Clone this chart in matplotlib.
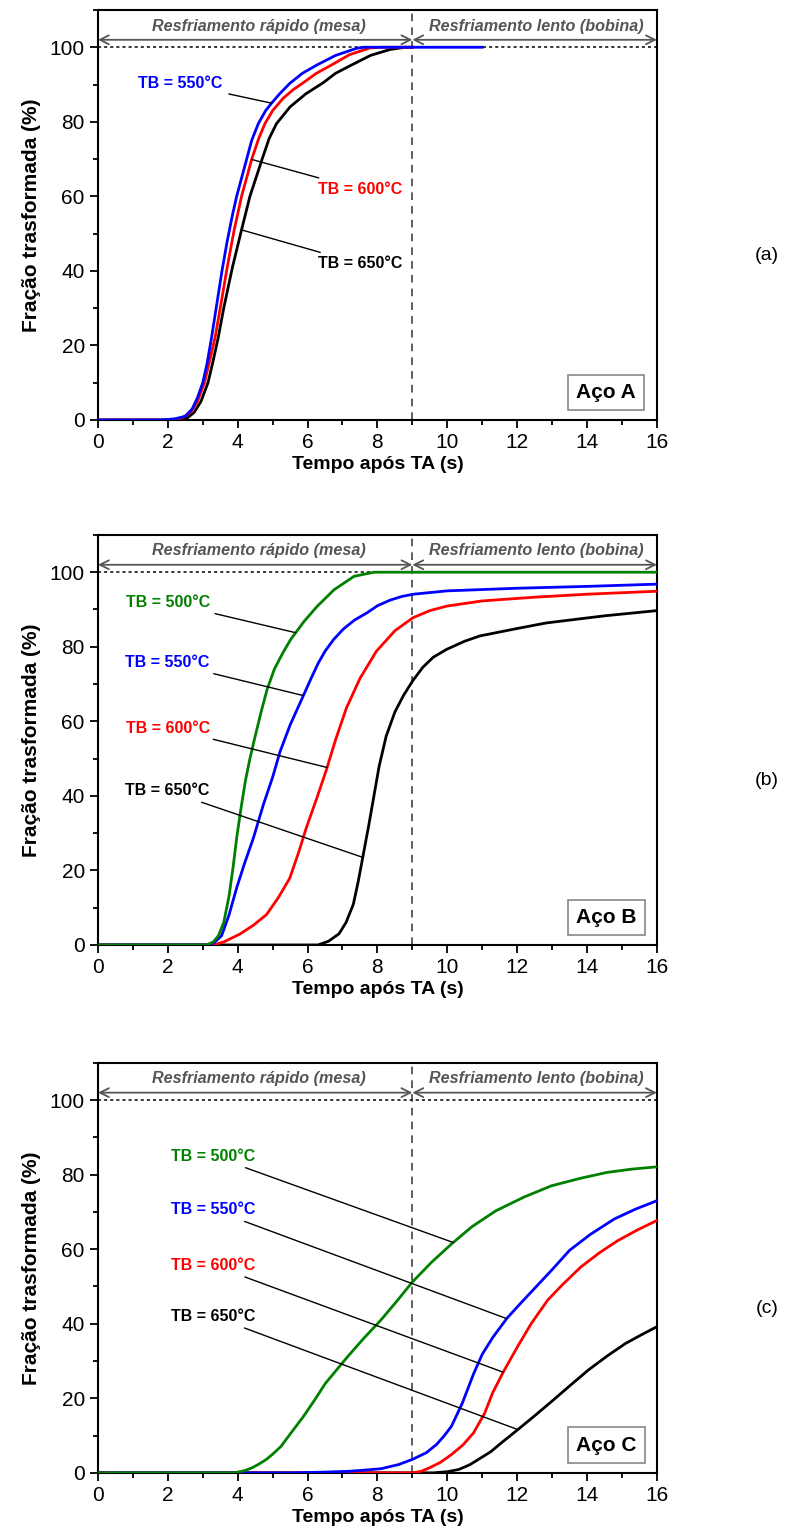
"""
Fração transformada vs tempo após TA, três aços (A, B, C) empilhados.
"""
import numpy as np
import matplotlib
matplotlib.use("Agg")
import matplotlib.pyplot as plt
from matplotlib.ticker import MultipleLocator

plt.rcParams["font.family"] = ["Liberation Sans", "DejaVu Sans"]

# ---- Aço A --------------------------------------------------------------
a_550_t = [0, 1.8, 2.2, 2.5, 2.7, 2.85, 3.0, 3.12, 3.25, 3.4, 3.55, 3.7, 3.85, 3.97,
           4.2, 4.4, 4.59, 4.8, 4.97, 5.2, 5.49, 5.85, 6.26, 6.8, 7.4, 7.6, 11]
a_550_f = [0, 0, 0.3, 1, 3, 6, 10, 15, 22, 31, 40, 48, 55, 60,
           68, 75, 79.5, 83, 85, 87.5, 90.3, 93, 95.2, 97.8, 99.7, 100, 100]
a_600_t = [0, 2.0, 2.4, 2.65, 2.85, 3.05, 3.2, 3.35, 3.5, 3.7, 3.9, 4.11,
           4.4, 4.6, 4.78, 5.0, 5.3, 5.6, 5.88, 6.25, 6.64, 7.2, 7.78, 8.1, 9]
a_600_f = [0, 0, 0.5, 2, 5, 10, 16, 22, 30, 41, 51, 60,
           69.9, 75.5, 79.5, 83, 86.3, 88.7, 90.5, 93, 95, 98, 99.8, 100, 100]
a_650_t = [0, 2.3, 2.55, 2.75, 2.95, 3.15, 3.3, 3.44, 3.6, 3.85, 4.11, 4.35,
           4.7, 4.9, 5.11, 5.5, 5.95, 6.45, 6.8, 7.21, 7.8, 8.36, 8.8, 9]
a_650_f = [0, 0, 0.5, 2, 5, 10, 16, 22, 30, 41, 51, 60,
           70, 75.5, 79.5, 84, 87.5, 90.5, 93, 95, 97.8, 99.4, 100, 100]

# ---- Aço B --------------------------------------------------------------
b_500_t = [0, 3.1, 3.3, 3.45, 3.6, 3.75, 3.87, 3.97, 4.1, 4.22, 4.35, 4.5, 4.67,
           4.84, 5.05, 5.3, 5.52, 5.9, 6.28, 6.76, 7.33, 7.9, 16]
b_500_f = [0, 0, 0.8, 2.5, 6, 13, 21, 28.7, 37, 44, 50, 56, 62.5,
           68.5, 74, 78.5, 82, 86.8, 90.9, 95.3, 98.9, 100, 100]
b_550_t = [0, 3.2, 3.35, 3.54, 3.75, 3.97, 4.2, 4.45, 4.73, 5.0, 5.21, 5.5, 5.88,
           6.1, 6.3, 6.5, 6.75, 7.03, 7.35, 7.7, 8.0, 8.36, 8.7, 9.03, 10, 12, 14, 16]
b_550_f = [0, 0, 0.8, 2.5, 8, 15.3, 22, 28.7, 37.5, 45, 51.8, 59, 66.9,
           71.5, 75.5, 78.8, 82, 84.8, 87.2, 89.1, 91, 92.5, 93.5, 94.1, 95, 95.7, 96.2, 96.8]
b_600_t = [0, 3.3, 3.6, 4.06, 4.45, 4.82, 5.15, 5.49, 5.75, 5.96, 6.25, 6.54, 6.8,
           7.11, 7.5, 7.97, 8.5, 9.02, 9.5, 9.98, 11, 12.5, 14, 16]
b_600_f = [0, 0, 0.8, 2.9, 5.3, 8.1, 12.5, 17.9, 25, 31.3, 39, 47, 55,
           63.5, 71.5, 78.8, 84.3, 87.8, 89.7, 90.9, 92.3, 93.3, 94.1, 94.9]
b_650_t = [0, 6.3, 6.6, 6.9, 7.1, 7.31, 7.45, 7.59, 7.75, 7.9, 8.05, 8.25, 8.5,
           8.75, 9.02, 9.3, 9.6, 9.98, 10.5, 10.93, 12.0, 12.84, 14.5, 16]
b_650_f = [0, 0, 1, 3, 6, 10.9, 17, 24, 32, 40, 48, 56, 62.5,
           67, 71, 74.5, 77.2, 79.3, 81.5, 82.9, 84.9, 86.4, 88.3, 89.7]

# ---- Aço C --------------------------------------------------------------
c_500_t = [0, 3.9, 4.2, 4.4, 4.6, 4.82, 5.0, 5.24, 5.55, 5.88, 6.2, 6.51, 7.15,
           7.6, 8.1, 8.55, 9.0, 9.55, 10.12, 10.7, 11.39, 12.2, 12.98, 13.8,
           14.57, 15.3, 16]
c_500_f = [0, 0, 0.6, 1.3, 2.3, 3.6, 5, 7.1, 11, 15.1, 19.5, 24, 31.2,
           36, 41, 46, 51.2, 56.5, 61.4, 66, 70.3, 74, 77, 79,
           80.6, 81.5, 82.1]
c_550_t = [0, 5.6, 6.5, 7.15, 7.6, 8.1, 8.6, 9.0, 9.4, 9.69, 9.9, 10.12, 10.43,
           10.75, 11.0, 11.3, 11.71, 12.1, 12.45, 13.0, 13.5, 14.1, 14.78,
           15.4, 16]
c_550_f = [0, 0, 0.2, 0.4, 0.7, 1.1, 2.2, 3.6, 5.4, 7.6, 9.8, 12.5, 18.7,
           26.5, 31.8, 36.3, 41.5, 45.5, 49, 54.5, 59.7, 64, 68.1,
           70.8, 73]
c_600_t = [0, 9.0, 9.25, 9.48, 9.8, 10.12, 10.45, 10.75, 11.07, 11.3, 11.6,
           12.02, 12.4, 12.87, 13.3, 13.82, 14.35, 14.88, 15.45, 16]
c_600_f = [0, 0, 0.4, 1.3, 2.8, 4.9, 7.5, 10.7, 16, 21.5, 27,
           34, 40, 46.3, 50.5, 55.2, 59, 62.3, 65.2, 67.7]
c_650_t = [0, 9.6, 10.0, 10.33, 10.65, 10.96, 11.25, 11.49, 12.02, 12.5, 12.98,
           13.5, 14.04, 14.6, 15.1, 15.55, 16]
c_650_f = [0, 0, 0.3, 0.9, 2.2, 4, 5.7, 7.6, 11.6, 15.3, 19.1,
           23.3, 27.6, 31.5, 34.7, 37, 39.2]

# rótulos: (texto, cor, x do texto, y do texto, alinhamento, t do ponto na curva)
labels_a = [
    ("TB = 550°C", "#0000ff", 3.55, 90.3, "right", 4.97),
    ("TB = 600°C", "#ff0000", 6.3, 61.9, "left", 4.40),
    ("TB = 650°C", "black", 6.3, 41.9, "left", 4.11),
]
labels_b = [
    ("TB = 500°C", "#008000", 3.2, 91.9, "right", 5.66),
    ("TB = 550°C", "#0000ff", 3.2, 75.8, "right", 5.88),
    ("TB = 600°C", "#ff0000", 3.2, 58.2, "right", 6.56),
    ("TB = 650°C", "black", 3.2, 41.4, "right", 7.58),
]
labels_c = [
    ("TB = 500°C", "#008000", 4.5, 85.0, "right", 10.17),
    ("TB = 550°C", "#0000ff", 4.5, 70.6, "right", 11.70),
    ("TB = 600°C", "#ff0000", 4.5, 55.7, "right", 11.60),
    ("TB = 650°C", "black", 4.5, 42.0, "right", 12.02),
]

panels = [
    ("Aço A", "(a)", [(a_650_t, a_650_f, "black"), (a_600_t, a_600_f, "#ff0000"),
                      (a_550_t, a_550_f, "#0000ff")], labels_a),
    ("Aço B", "(b)", [(b_650_t, b_650_f, "black"), (b_600_t, b_600_f, "#ff0000"),
                      (b_550_t, b_550_f, "#0000ff"), (b_500_t, b_500_f, "#008000")], labels_b),
    ("Aço C", "(c)", [(c_650_t, c_650_f, "black"), (c_600_t, c_600_f, "#ff0000"),
                      (c_550_t, c_550_f, "#0000ff"), (c_500_t, c_500_f, "#008000")], labels_c),
]

T_SPLIT = 9
GRAY = "#555555"

fig = plt.figure(figsize=(7.85, 15.35), dpi=100)
bottoms = [0.7264, 0.3844, 0.0405]

for (steel, tag, curves, labels), bottom in zip(panels, bottoms):
    ax = fig.add_axes([0.1248, bottom, 0.712, 0.2671])
    colors = {c: (t, f) for t, f, c in curves}

    ax.axhline(100, color="black", lw=1.1, ls=(0, (2, 2)), zorder=1)
    ax.axvline(T_SPLIT, color="#333333", lw=1.1, ls=(0, (5, 4)), zorder=1)
    for t, f, c in curves:
        ax.plot(t, f, color=c, lw=2.0, zorder=3, solid_joinstyle="round")

    for text, c, xt, yt, ha, tp in labels:
        t, f = colors[c]
        yp = np.interp(tp, t, f)
        ax.annotate(text, xy=(tp, yp), xytext=(xt, yt), color=c, fontsize=11.5,
                    fontweight="bold", ha=ha, va="center",
                    arrowprops=dict(arrowstyle="-", color="black", lw=1.0,
                                    shrinkA=3, shrinkB=0))

    # faixas de resfriamento
    for x0, x1 in [(0, T_SPLIT), (T_SPLIT, 16)]:
        ax.annotate("", xy=(x0, 102), xytext=(x1, 102),
                    arrowprops=dict(arrowstyle="<->", color=GRAY, lw=1.3,
                                    shrinkA=0, shrinkB=0,
                                    mutation_scale=16))
    ax.text(4.6, 105.7, "Resfriamento rápido (mesa)", color=GRAY, fontsize=11.6,
            style="italic", fontweight="bold", ha="center", va="center")
    ax.text(12.55, 105.7, "Resfriamento lento (bobina)", color=GRAY, fontsize=11.6,
            style="italic", fontweight="bold", ha="center", va="center")

    ax.text(14.55, 7.4, steel, fontsize=15, fontweight="bold", ha="center", va="center",
            bbox=dict(boxstyle="square,pad=0.4", fc="white", ec="#888888", lw=1.2))

    ax.set_xlim(0, 16)
    ax.set_ylim(0, 110)
    ax.xaxis.set_major_locator(MultipleLocator(2))
    ax.xaxis.set_minor_locator(MultipleLocator(1))
    ax.yaxis.set_major_locator(MultipleLocator(20))
    ax.yaxis.set_minor_locator(MultipleLocator(10))
    ax.tick_params(which="both", direction="out", top=False, right=False,
                   width=1.3, labelsize=15)
    ax.tick_params(which="major", length=6)
    ax.tick_params(which="minor", length=3.5)
    for s in ax.spines.values():
        s.set_linewidth(1.5)

    ax.set_xlabel("Tempo após TA (s)", fontsize=14, fontweight="bold", labelpad=3)
    ax.set_ylabel("Fração trasformada (%)", fontsize=15, fontweight="bold", labelpad=6)
    ax.text(1.197, 0.40, tag, transform=ax.transAxes, fontsize=14, ha="center", va="center")

fig.savefig("out.png", dpi=100)
